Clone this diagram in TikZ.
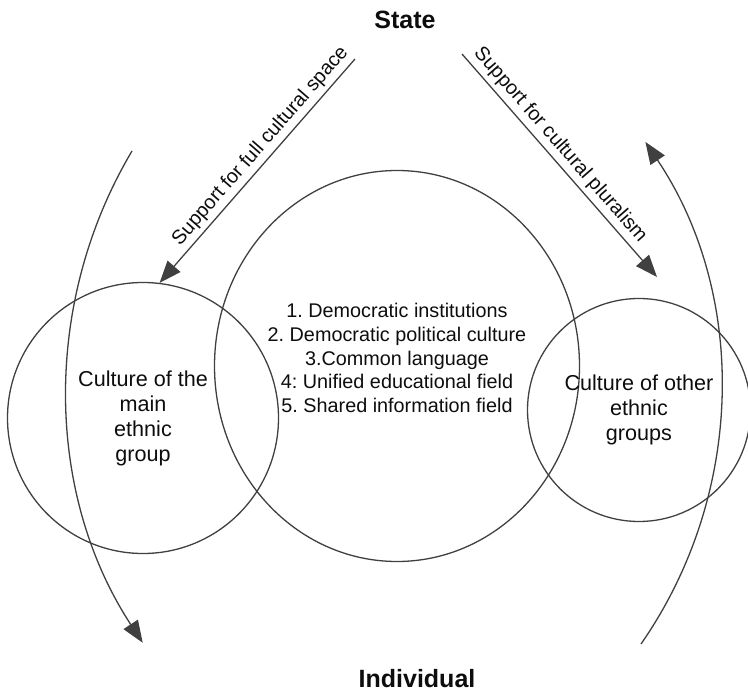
\documentclass[tikz,border=0pt]{standalone}
\usepackage{fontspec}
\setmainfont{Liberation Sans}
\usetikzlibrary{arrows.meta,shapes.geometric}
\frenchspacing

\begin{document}
\begin{tikzpicture}[x=0.5pt, y=0.5pt,
    ring/.style={draw=lineg, line width=0.65pt, circle, inner sep=0pt, align=center, text=textg},
    lbl/.style={text=textg, align=center, inner sep=0pt},
    arr/.style={draw=lineg, line width=0.65pt, -{Triangle[length=11pt, width=8.5pt]}},
    pole/.style={font=\fontsize{12.5}{15}\selectfont\bfseries, text=textg, inner sep=0pt}]
  \colorlet{lineg}{black!75}
  \colorlet{textg}{black!95}
  \useasboundingbox (0,0) rectangle (748,-694);
  % ---- poles ---------------------------------------------------------------
  \node[pole] (state) at (405,-20) {State};
  \node[pole] (indiv) at (417,-679) {Individual};
  % ---- circles -------------------------------------------------------------
  \node[ring, minimum size=135.5pt, font=\fontsize{10.8}{12.5}\selectfont] (mainc) at (143,-418)
    {Culture of the\\main\\ethnic\\group};
  \node[ring, ellipse, minimum width=182.5pt, minimum height=195.5pt] (core) at (397,-366) {};
  \node[lbl, font=\fontsize{9.9}{11.9}\selectfont] (list) at (397,-358)
    {1. Democratic institutions\\2. Democratic political culture\\3.Common language\\4: Unified educational field\\5. Shared information field};
  \node[ring, minimum size=111.5pt, font=\fontsize{10.8}{12.5}\selectfont] (otherc) at (639,-410)
    {Culture of other\\ethnic\\groups};
  % ---- support arrows from the state ---------------------------------------
  \coordinate (lsrc) at (355,-59);
  \coordinate (rsrc) at (462,-54);
  \coordinate (rtip) at (657,-277);
  \draw[arr] (lsrc) -- node[lbl, sloped, above=2pt, pos=0.43, font=\fontsize{9.9}{11.9}\selectfont] (lsup)
    {Support for full cultural space} (mainc.83);
  \draw[arr] (rsrc) -- node[lbl, sloped, above=2pt, pos=0.45, font=\fontsize{9.9}{11.9}\selectfont] (rsup)
    {Support for cultural pluralism} (rtip);
  % ---- flows between state and individual ----------------------------------
  \coordinate (lfrom) at (132,-151);
  \coordinate (rfrom) at (641,-644);
  \draw[arr] (lfrom) arc[start angle=149.3, end angle=213.2, radius=464.8];
  \draw[arr] (rfrom) arc[start angle=-34.8, end angle=33.8, radius=445.5];
\end{tikzpicture}
\end{document}
